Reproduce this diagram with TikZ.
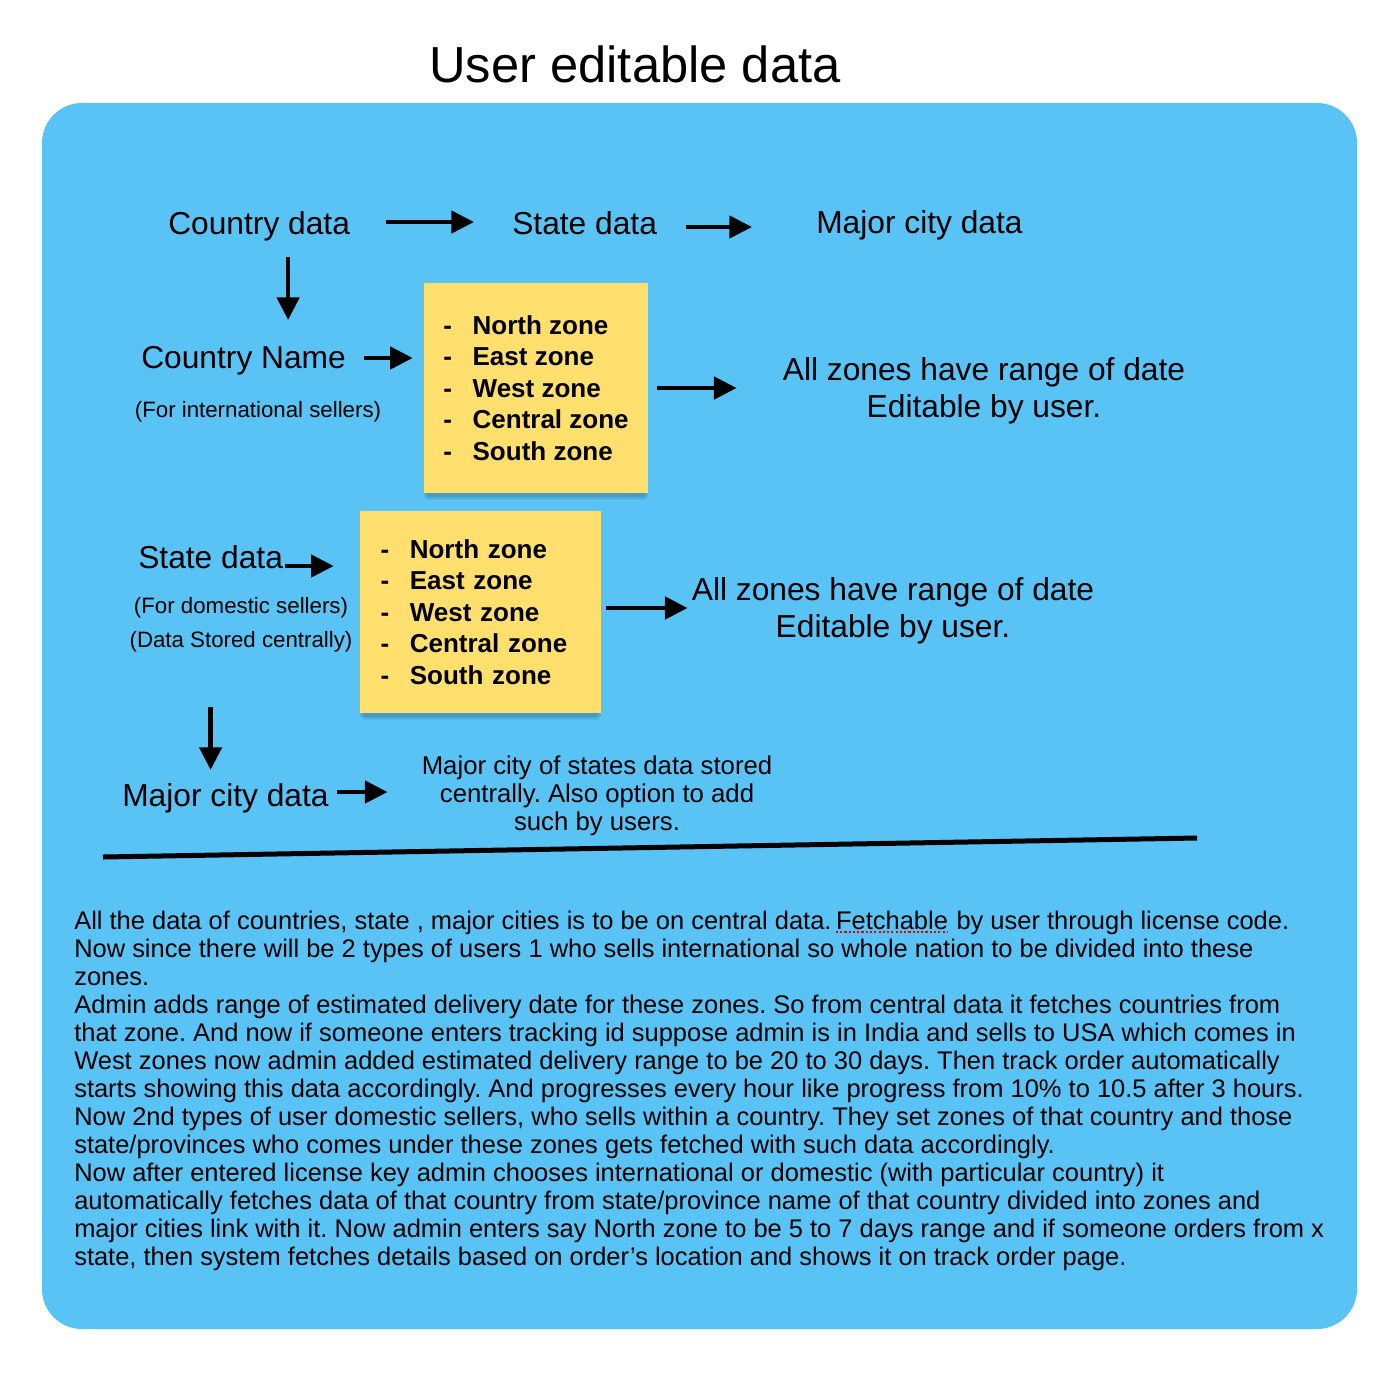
\documentclass[tikz,border=0pt]{standalone}
\usepackage{fontspec}
\setmainfont{Liberation Sans}
\usetikzlibrary{arrows.meta,positioning,shadows}
\definecolor{board}{RGB}{90,195,246}
\definecolor{sticky}{RGB}{255,223,110}
\newcommand\zoneitem[1]{\makebox[22pt][l]{-}#1}
\frenchspacing
\begin{document}
\begin{tikzpicture}[x=0.75pt,y=-0.75pt,
  big/.style={font=\fontsize{23.8}{27.75}\selectfont, inner sep=0pt},
  small/.style={font=\fontsize{16.7}{19}\selectfont, inner sep=0pt},
  note/.style={fill=sticky, align=left, font=\bfseries\fontsize{19.5}{23.6}\selectfont,
    drop shadow={shadow xshift=0pt, shadow yshift=-8pt, shadow scale=.97, opacity=.05, fill=black},
    drop shadow={shadow xshift=0pt, shadow yshift=-5.5pt, shadow scale=.985, opacity=.07, fill=black},
    drop shadow={shadow xshift=0pt, shadow yshift=-3pt, opacity=.09, fill=black}},
  arr/.style={line width=3.5pt, -{Triangle[length=17pt,width=16.5pt]}},
  body/.style={font=\fontsize{19.1}{21}\selectfont, inner sep=0pt, anchor=base west}]
\useasboundingbox (0,0) rectangle (1387,1379);
\fill[white] (0,0) rectangle (1387,1379);
\node[font=\fontsize{38}{44}\selectfont] (title) at (635,64) {User editable data};
\fill[board, rounded corners=30pt] (42,103) rectangle (1357,1329);

\node[big, anchor=west] (cdata) at (168,226) {Country data};
\node[big, anchor=west] (sdata) at (512,223) {State data};
\node[big, anchor=west] (mcity) at (816,225) {Major city data};
\node[big, anchor=west] (cname) at (141,361) {Country Name};
\node[small] (sub1) at (258,412) {(For international sellers)};
\node[note, minimum width=168pt, minimum height=157.5pt] (zn1) at (536,388)
  {\zoneitem{North zone}\\ \zoneitem{East zone}\\ \zoneitem{West zone}\\ \zoneitem{Central zone}\\ \zoneitem{South zone}};
\node[big, align=center] (zones1) at (984,391) {All zones have range of date\\ Editable by user.};

\node[big, anchor=west] (sdata2) at (138,557) {State data};
\node[small] (sub2a) at (241,608) {(For domestic sellers)};
\node[small] (sub2b) at (241,642) {(Data Stored centrally)};
\node[note, text width=150pt, inner xsep=15.375pt, minimum height=151.5pt] (zn2) at (480.5,612)
  {\zoneitem{North zone}\\ \zoneitem{East zone}\\ \zoneitem{West zone}\\ \zoneitem{Central zone}\\ \zoneitem{South zone}};
\node[big, align=center] (zones2) at (893,611) {All zones have range of date\\ Editable by user.};

\node[big, anchor=west] (mcity2) at (122,798) {Major city data};
\node[font=\fontsize{19.3}{21}\selectfont, align=center, inner sep=0pt] (mnote) at (597,796)
  {Major city of states data stored\\ centrally. Also option to add\\ such by users.};

\draw[arr, shorten <=27pt, shorten >=28.5pt] ([yshift=3pt]cdata.east) -- ([yshift=3pt]cdata.east -| sdata.west);
\draw[arr, shorten <=21.75pt, shorten >=48pt] ([yshift=-3pt]sdata.east) -- ([yshift=-3pt]sdata.east -| mcity.west);
\draw[arr, shorten <=12.25pt, shorten >=19.75pt] ([xshift=21.75pt]cdata.south) -- ([xshift=21.75pt]cdata.south |- cname.north);
\draw[arr, shorten <=13.5pt, shorten >=8.25pt] ([yshift=2.25pt]cname.east) -- ([yshift=2.25pt]cname.east -| zn1.west);
\draw[arr, shorten <=6.75pt, shorten >=34.5pt] (zn1.east) -- (zn1.east -| zones1.west);
\draw[arr, shorten <=1.5pt, shorten >=19.5pt] ([yshift=-6.75pt]sdata2.east) -- ([yshift=-6.75pt]sdata2.east -| zn2.west);
\draw[arr, shorten <=3.75pt, shorten >=3pt] ([yshift=3pt]zn2.east) -- ([yshift=3pt]zn2.east -| zones2.west);
\draw[arr, shorten <=41pt, shorten >=9.75pt] (sdata2.south |- sub2b.south) -- (sdata2.south |- mcity2.north);
\draw[arr, shorten <=6pt, shorten >=25.5pt] ([yshift=4.5pt]mcity2.east) -- ([yshift=4.5pt]mcity2.east -| mnote.west);

\draw[line width=3.75pt] (103,857) -- (1197,838);

\node[body] (p1) at (74,929) {All the data of countries, state , major cities is to be on central data.};
\node[body, right=0.3em of p1.base east, anchor=base west] (fetch) {Fetchable};
\node[body, right=0.6em of fetch.base east, anchor=base west] (p1b) {by user through license code.};
\draw[red!90!black, line width=1.6pt, dash pattern=on 1.6pt off 1.6pt] ([yshift=-2.5pt]fetch.base west) -- ([yshift=-2.5pt]fetch.base east);
\foreach \txt [count=\i from 2] in {
  {Now since there will be 2 types of users 1 who sells international so whole nation to be divided into these},
  {zones.},
  {Admin adds range of estimated delivery date for these zones. So from central data it fetches countries from},
  {that zone. And now if someone enters tracking id suppose admin is in India and sells to USA which comes in},
  {West zones now admin added estimated delivery range to be 20 to 30 days. Then track order automatically},
  {starts showing this data accordingly. And progresses every hour like progress from 10\% to 10.5 after 3 hours.},
  {Now 2nd types of user domestic sellers, who sells within a country. They set zones of that country and those},
  {state/provinces who comes under these zones gets fetched with such data accordingly.},
  {Now after entered license key admin chooses international or domestic (with particular country) it},
  {automatically fetches data of that country from state/province name of that country divided into zones and},
  {major cities link with it. Now admin enters say North zone to be 5 to 7 days range and if someone orders from x},
  {state, then system fetches details based on order’s location and shows it on track order page.}}
  \node[body] (p\i) at (74,901+28*\i) {\txt};
\end{tikzpicture}
\end{document}
